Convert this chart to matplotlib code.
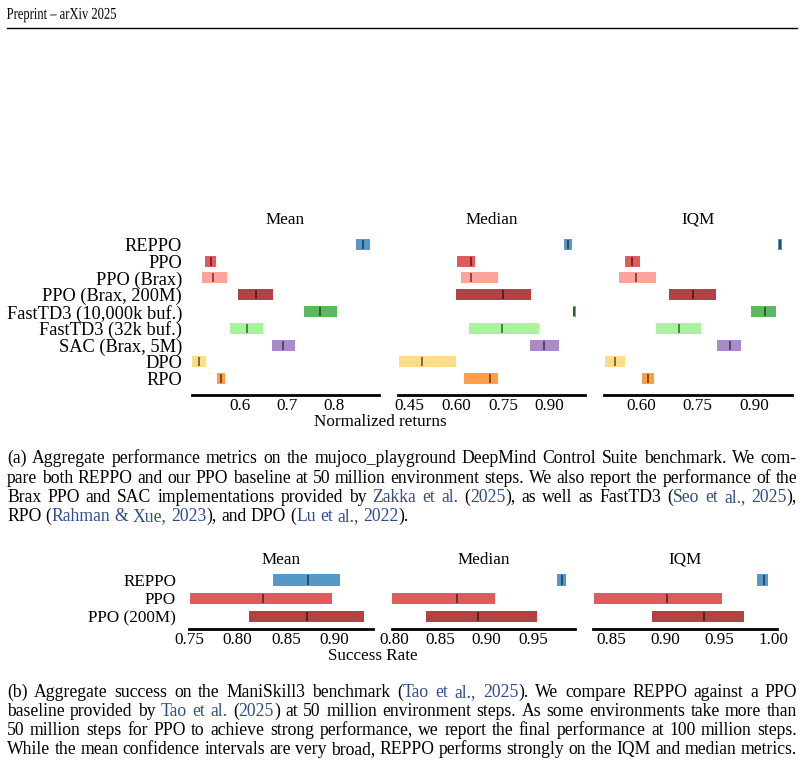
import numpy as np
import matplotlib.pyplot as plt
from matplotlib.textpath import TextPath
from matplotlib.patches import PathPatch
from matplotlib.font_manager import FontProperties
from matplotlib.transforms import Affine2D

plt.rcParams['font.family'] = ['Liberation Serif', 'DejaVu Serif']

W, H = 804, 765

# ---- data: mujoco_playground DMC (low, point, high) ----
dmc_algos = ['REPPO', 'PPO', 'PPO (Brax)', 'PPO (Brax, 200M)', 'FastTD3 (10,000k buf.)',
             'FastTD3 (32k buf.)', 'SAC (Brax, 5M)', 'DPO', 'RPO']
dmc_colors = ['#5599c8', '#e05c5c', '#fca39b', '#b34242', '#5fb85f',
              '#a6f59b', '#ab8acb', '#fedc8c', '#fe9f45']
dmc_mean = [(0.848, 0.862, 0.877), (0.526, 0.538, 0.549), (0.518, 0.543, 0.572),
            (0.596, 0.634, 0.670), (0.736, 0.770, 0.806), (0.579, 0.614, 0.649),
            (0.668, 0.692, 0.717), (0.497, 0.513, 0.528), (0.551, 0.560, 0.568)]
dmc_median = [(0.946, 0.959, 0.972), (0.603, 0.649, 0.661), (0.616, 0.647, 0.735),
              (0.600, 0.750, 0.840), (0.975, 0.979, 0.985), (0.642, 0.746, 0.866),
              (0.837, 0.883, 0.930), (0.417, 0.490, 0.600), (0.626, 0.710, 0.735)]
dmc_iqm = [(0.963, 0.968, 0.973), (0.558, 0.577, 0.597), (0.542, 0.587, 0.640),
           (0.674, 0.738, 0.798), (0.891, 0.928, 0.957), (0.640, 0.700, 0.759),
           (0.801, 0.835, 0.865), (0.505, 0.530, 0.558), (0.603, 0.619, 0.634)]

# ---- data: ManiSkill3 ----
ms_algos = ['REPPO', 'PPO', 'PPO (200M)']
ms_colors = ['#5599c8', '#e05c5c', '#b34242']
ms_mean = [(0.8367, 0.8729, 0.906), (0.7507, 0.826, 0.8974), (0.8118, 0.872, 0.9309)]
ms_median = [(0.976, 0.981, 0.986), (0.797, 0.868, 0.909), (0.8345, 0.891, 0.954)]
ms_iqm = [(0.985, 0.991, 0.995), (0.834, 0.9015, 0.953), (0.888, 0.9357, 0.9726)]

fig = plt.figure(figsize=(W / 100, H / 100), dpi=100)
FS = 12.3


def add_ax(x0, x1, ytop, ybot):
    return fig.add_axes([x0 / W, 1 - ybot / H, (x1 - x0) / W, (ybot - ytop) / H])


def draw_panel(ax, vals, colors, labels, title, xlim, ticks, fmt, ylim, h, first, ypad, yfs):
    for i, (lo, pt, hi) in enumerate(vals):
        ax.barh(i, hi - lo, left=lo, height=h, color=colors[i], lw=0)
        ax.vlines(pt, i - 0.42 * h, i + 0.42 * h, color='k', alpha=0.55, lw=1.3)
    ax.set_xlim(*xlim)
    ax.set_ylim(*ylim)
    ax.set_xticks(ticks)
    ax.set_xticklabels([fmt % t for t in ticks])
    ax.set_yticks(range(len(labels)))
    if first:
        ax.set_yticklabels(labels, fontsize=yfs)
    else:
        ax.set_yticklabels([])
    for s in ['left', 'right', 'top']:
        ax.spines[s].set_visible(False)
    ax.spines['bottom'].set_linewidth(2)
    ax.tick_params(axis='both', length=0)
    ax.tick_params(axis='x', pad=2.5, labelsize=FS)
    ax.tick_params(axis='y', pad=ypad)
    ax.set_title(title, fontsize=FS, pad=1.5)
    ax.patch.set_alpha(0)


# top figure
ylim_top = (8.97, -0.97)
top_ax = [add_ax(191.7, 379, 228, 395), add_ax(397.7, 585, 228, 395), add_ax(604, 791.7, 228, 395)]
draw_panel(top_ax[0], dmc_mean, dmc_colors, dmc_algos, 'Mean', (0.497, 0.896),
           [0.6, 0.7, 0.8], '%.1f', ylim_top, 0.65, True, 7, 13.2)
draw_panel(top_ax[1], dmc_median, dmc_colors, dmc_algos, 'Median', (0.413, 1.013),
           [0.45, 0.60, 0.75, 0.90], '%.2f', ylim_top, 0.65, False, 7, 13.2)
draw_panel(top_ax[2], dmc_iqm, dmc_colors, dmc_algos, 'IQM', (0.502, 0.999),
           [0.60, 0.75, 0.90], '%.2f', ylim_top, 0.65, False, 7, 13.2)
fig.text(380 / W, 1 - 426 / H, 'Normalized returns', ha='center', va='baseline', fontsize=FS)

# bottom figure
ylim_bot = (2.67, -0.67)
bot_ax = [add_ax(189.3, 373.3, 567.7, 629), add_ax(391.7, 575, 567.7, 629), add_ax(593.3, 777.3, 567.7, 629)]
draw_panel(bot_ax[0], ms_mean, ms_colors, ms_algos, 'Mean', (0.75, 0.9405),
           [0.75, 0.80, 0.85, 0.90], '%.2f', ylim_bot, 0.6, True, 9.5, 12.3)
draw_panel(bot_ax[1], ms_median, ms_colors, ms_algos, 'Median', (0.7975, 0.9955),
           [0.80, 0.85, 0.90, 0.95], '%.2f', ylim_bot, 0.6, False, 9.5, 12.3)
draw_panel(bot_ax[2], ms_iqm, ms_colors, ms_algos, 'IQM', (0.8336, 1.0037),
           [0.85, 0.90, 0.95, 1.00], '%.2f', ylim_bot, 0.6, False, 9.5, 12.3)
fig.text(373 / W, 1 - 659.5 / H, 'Success Rate', ha='center', va='baseline', fontsize=FS)

# page header (condensed serif, drawn as a path)
hdr = TextPath((0, 0), 'Preprint \u2013 arXiv 2025', size=16.5,
               prop=FontProperties(family='Liberation Serif'))
hb = hdr.get_extents()
sx = 109 / hb.width
fig.add_artist(PathPatch(hdr, transform=Affine2D().scale(sx, 1).translate(7 - hb.x0 * sx, H - 18.8),
                         color='black', lw=0))
fig.add_artist(plt.Line2D([7 / W, 797 / W], [1 - 28 / H, 1 - 28 / H], color='black', lw=1))

# captions (justified, [..] = citation colour)
BLUE = '#2e4d8c'
CFS = 12.7
cap_a = ['(a) Aggregate performance metrics on the mujoco_playground DeepMind Control Suite benchmark. We com-',
         'pare both REPPO and our PPO baseline at 50 million environment steps. We also report the performance of the',
         'Brax PPO and SAC implementations provided by [Zakka et al.] ([2025]), as well as FastTD3 ([Seo et al., 2025]),',
         'RPO ([Rahman & Xue, 2023]), and DPO ([Lu et al., 2022]).']
cap_b = ['(b) Aggregate success on the ManiSkill3 benchmark ([Tao et al., 2025]). We compare REPPO against a PPO',
         'baseline provided by [Tao et al.] ([2025]) at 50 million environment steps. As some environments take more than',
         '50 million steps for PPO to achieve strong performance, we report the final performance at 100 million steps.',
         'While the mean confidence intervals are very broad, REPPO performs strongly on the IQM and median metrics.']

renderer = fig.canvas.get_renderer()


def text_w(s):
    t = fig.text(0, 0, s, fontsize=CFS)
    w = t.get_window_extent(renderer).width
    t.remove()
    return w


def to_words(line):
    words, cur, color = [], [], 'black'
    buf = ''
    for ch in line:
        if ch in '[]':
            if buf:
                cur.append((buf, color))
                buf = ''
            color = BLUE if ch == '[' else 'black'
        elif ch == ' ':
            if buf:
                cur.append((buf, color))
                buf = ''
            if cur:
                words.append(cur)
                cur = []
        else:
            buf += ch
    if buf:
        cur.append((buf, color))
    if cur:
        words.append(cur)
    return words


space_w = text_w('a a') - text_w('aa')


def draw_caption(lines, y0, dy, justify_last=False, x0=7, x1=797):
    for k, line in enumerate(lines):
        words = to_words(line)
        widths = [[text_w(s) for s, _ in wd] for wd in words]
        total = sum(sum(w) for w in widths)
        last = k == len(lines) - 1 and not justify_last
        gap = space_w if last else (x1 - x0 - total) / (len(words) - 1)
        x = x0
        y = 1 - (y0 + k * dy) / H
        for wd, ws in zip(words, widths):
            for (s, c), w in zip(wd, ws):
                fig.text(x / W, y, s, color=c, fontsize=CFS, va='baseline', ha='left')
                x += w
            x += gap


draw_caption(cap_a, 463.3, 19.3)
draw_caption(cap_b, 696.7, 19.2, justify_last=True)

fig.savefig('out.png', dpi=100)
